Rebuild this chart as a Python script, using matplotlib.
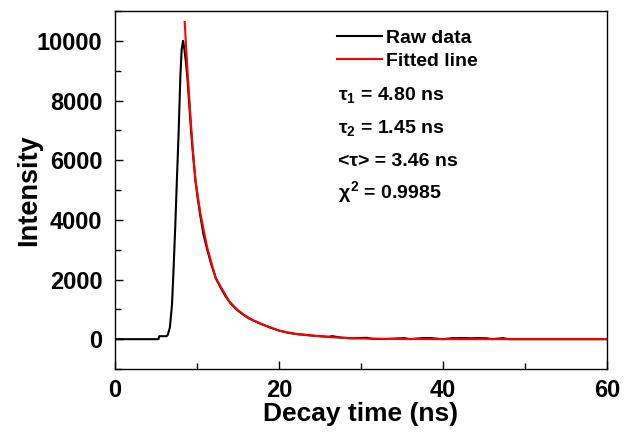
import matplotlib.pyplot as plt
from matplotlib.ticker import MultipleLocator

plt.rcParams['font.family'] = ['Liberation Sans', 'DejaVu Sans']
plt.rcParams['font.weight'] = 'bold'
plt.rcParams['mathtext.fontset'] = 'custom'
plt.rcParams['mathtext.rm'] = 'Liberation Sans:bold'
plt.rcParams['mathtext.it'] = 'Liberation Sans:bold'
plt.rcParams['mathtext.bf'] = 'Liberation Sans:bold'

# raw decay
t_raw = [0, 5.3, 5.4, 6.3, 6.45, 6.7, 6.95, 7.1, 7.36, 7.56, 7.76, 7.97, 8.13, 8.3,
         8.45, 8.65, 8.85, 9.05, 9.3, 9.55, 9.8, 10.1, 10.4, 10.8, 11.2, 11.7, 12.3,
         12.9, 13.5, 14.1, 14.8, 15.5, 16.3, 17.1, 18.0, 19.0, 20.0, 21.0, 22.0, 23.0,
         24.5, 26.0, 26.5, 27.5, 29.0, 30.7, 31.5, 33.0, 35.3, 36.0, 37.7, 38.5, 40.0,
         41.2, 41.6, 42.2, 43.4, 44.2, 45.3, 46.0, 47.3, 48.0, 52.0, 56.0, 60.0]
i_raw = [0, 0, 100, 100, 150, 400, 1150, 2050, 3850, 5420, 6900, 8800, 9700, 10000,
         9750, 9300, 8700, 7900, 6900, 6100, 5350, 4700, 4150, 3500, 3050, 2550, 2040,
         1720, 1430, 1200, 1000, 850, 700, 600, 490, 380, 290, 220, 175, 150,
         110, 80, 100, 55, 30, 45, 10, 5, 35, 0, 40, 35, 0,
         35, 30, 40, 30, 35, 30, 0, 35, 0, 0, 0, 0]

# fitted curve
t_fit = [8.5, 8.8, 9.2, 9.48, 9.82, 10.43, 11.25, 12.27, 13.9, 14.9, 15.95, 17.0,
         18.0, 20.1, 22.0, 23.8, 26.3, 28.7, 32.0, 36.0, 40.0, 50.0, 60.0]
i_fit = [10630, 9180, 7500, 6380, 5310, 4190, 3070, 2060, 1280, 990, 770, 610,
         490, 280, 175, 124, 67, 30, 12, 5, 2, 0, 0]

fig = plt.figure(figsize=(6.29, 4.37), dpi=100)
ax = fig.add_axes([0.1828, 0.1556, 0.7822, 0.8192])

ax.plot(t_raw, i_raw, color='black', lw=1.5, label='Raw data')
ax.plot(t_fit, i_fit, color='#ff0000', lw=1.5, label='Fitted line')

ax.set_xlim(0, 60)
ax.set_ylim(-1000, 11000)
ax.xaxis.set_major_locator(MultipleLocator(20))
ax.xaxis.set_minor_locator(MultipleLocator(10))
ax.yaxis.set_major_locator(MultipleLocator(2000))
ax.yaxis.set_minor_locator(MultipleLocator(1000))
ax.tick_params(which='both', direction='in', width=1, top=False, right=False,
               labelsize=17)
ax.tick_params(axis='y', pad=9)
ax.tick_params(axis='x', pad=7)
ax.tick_params(which='major', length=6)
ax.tick_params(which='minor', length=4)
for s in ax.spines.values():
    s.set_linewidth(1)

ax.set_xlabel('Decay time (ns)', fontsize=19, fontweight='bold', labelpad=0)
ax.set_ylabel('Intensity', fontsize=19.5, fontweight='bold', labelpad=-4)

ax.legend(loc='upper left', bbox_to_anchor=(337 / 629, 1 - 29 / 437),
          bbox_transform=fig.transFigure, frameon=False, fontsize=14,
          handlelength=2.3, handletextpad=0.2, labelspacing=0.3, borderpad=0,
          borderaxespad=0)

notes = [r'$\tau_1$ = 4.80 ns', r'$\tau_2$ = 1.45 ns', '<τ> = 3.46 ns',
         r'$\chi^2$ = 0.9985']
ys = [95, 128, 161, 192]
for txt, y in zip(notes, ys):
    fig.text(338 / 629, 1 - y / 437, txt, fontsize=14, fontweight='bold',
             va='center', ha='left')

fig.savefig('out.png', dpi=100)
